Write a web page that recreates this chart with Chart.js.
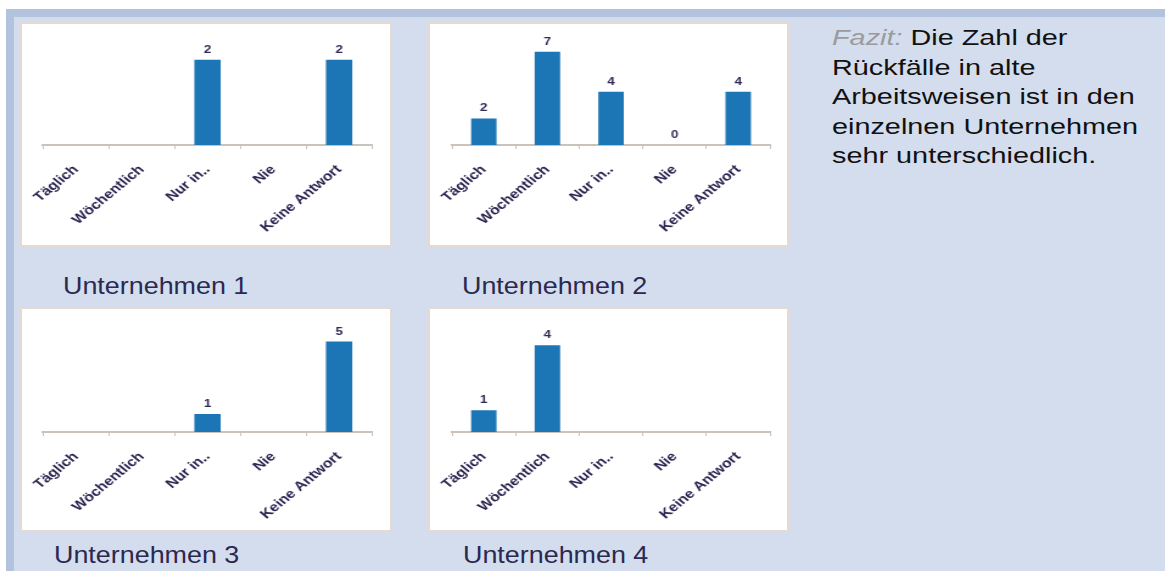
<!DOCTYPE html>
<html>
<head>
<meta charset="utf-8">
<script src="https://cdn.jsdelivr.net/npm/chart.js@4.4.0/dist/chart.umd.min.js"></script>
<style>
body { margin:0; background:#fff; width:1165px; height:574px; overflow:hidden; position:relative; font-family:"Liberation Sans", Arial, sans-serif; }
.frame { position:absolute; left:6px; top:9px; width:1159px; height:562px; background:#d3ddee; border-top:8px solid #b3c3de; border-left:8px solid #b3c3de; box-sizing:border-box; }
.panel { position:absolute; background:#fff; border:2px solid #e4dad1; box-sizing:border-box; overflow:hidden; }
.stretch { position:absolute; left:0; top:0; transform-origin:0 0; }
.caption { position:absolute; font-size:24px; color:#2b2950; transform-origin:0 0; transform:scaleX(1.12); white-space:nowrap; }
.fazit { position:absolute; left:832px; top:23px; font-size:22px; line-height:29.5px; color:#111; transform-origin:0 0; transform:scaleX(1.31); white-space:nowrap; }
.fazit em { color:#9b9b9b; }
</style>
</head>
<body>
<div class="frame"></div>
<div class="fazit"><em>Fazit:</em> Die Zahl der<br>Rückfälle in alte<br>Arbeitsweisen ist in den<br>einzelnen Unternehmen<br>sehr unterschiedlich.</div>
<script>
// Data
const categories = ['Täglich', 'Wöchentlich', 'Nur in..', 'Nie', 'Keine Antwort'];
const companies = ['Unternehmen 1', 'Unternehmen 2', 'Unternehmen 3', 'Unternehmen 4'];
const company1 = [null, null, 2, null, 2];
const company2 = [2, 7, 4, 0, 4];
const company3 = [null, null, 1, null, 5];
const company4 = [1, 4, null, null, null];
const axisMax = [2.5, 8, 6, 5];

const seriesList = [company1, company2, company3, company4];

// panel placement (page pixels)
const panels = [
    { left: 20, top: 22, w: 372, h: 225, axisY: 121, padL: 21, padR: 18, capX: 63, capY: 272 },
    { left: 428, top: 22, w: 361, h: 225, axisY: 121, padL: 22, padR: 17, capX: 462, capY: 272 },
    { left: 20, top: 307, w: 372, h: 225, axisY: 123, padL: 21, padR: 18, capX: 54, capY: 541 },
    { left: 428, top: 307, w: 361, h: 225, axisY: 123, padL: 22, padR: 17, capX: 463, capY: 541 }
];
// the source picture is stretched sideways, so the charts are drawn narrow and widened
const stretch = 1.22;

const valueLabels = {
    id: 'valueLabels',
    afterDatasetsDraw(chart) {
        const ctx = chart.ctx;
        const values = chart.data.datasets[0].data;
        const meta = chart.getDatasetMeta(0);
        ctx.save();
        ctx.font = 'bold 11px "Liberation Sans", Arial, sans-serif';
        ctx.fillStyle = '#2e2a55';
        ctx.textAlign = 'center';
        ctx.textBaseline = 'alphabetic';
        meta.data.forEach((bar, i) => {
            if (values[i] === null) return;
            ctx.fillText(String(values[i]), bar.x, bar.y - 7);
        });
        ctx.restore();
    }
};

panels.forEach((p, idx) => {
    const panel = document.createElement('div');
    panel.className = 'panel';
    panel.style.left = p.left + 'px';
    panel.style.top = p.top + 'px';
    panel.style.width = p.w + 'px';
    panel.style.height = p.h + 'px';
    document.body.appendChild(panel);

    const W = p.w - 4, H = p.h - 4;
    const cw = Math.round(W / stretch);
    const s = W / cw;
    const wrap = document.createElement('div');
    wrap.className = 'stretch';
    wrap.style.width = cw + 'px';
    wrap.style.height = H + 'px';
    wrap.style.transform = 'scaleX(' + s + ')';
    const canvas = document.createElement('canvas');
    canvas.width = cw;
    canvas.height = H;
    wrap.appendChild(canvas);
    panel.appendChild(wrap);

    const cap = document.createElement('div');
    cap.className = 'caption';
    cap.style.left = p.capX + 'px';
    cap.style.top = p.capY + 'px';
    cap.textContent = companies[idx];
    document.body.appendChild(cap);

    new Chart(canvas, {
        type: 'bar',
        data: {
            labels: categories,
            datasets: [{
                data: seriesList[idx],
                backgroundColor: '#1c75b5',
                borderWidth: 0,
                categoryPercentage: 1,
                barPercentage: 0.4
            }]
        },
        options: {
            responsive: false,
            animation: false,
            events: [],
            layout: { padding: { left: p.padL / s, right: p.padR / s, top: 14.5, bottom: 0 } },
            plugins: { legend: { display: false }, tooltip: { enabled: false } },
            scales: {
                y: { display: false, min: 0, max: axisMax[idx] },
                x: {
                    offset: true,
                    grid: { display: true, offset: true, drawOnChartArea: false, drawTicks: true, tickLength: 4, color: '#cbc2ba', lineWidth: 1 },
                    border: { display: true, color: '#cbc2ba', width: 2 },
                    ticks: {
                        autoSkip: false, minRotation: 45, maxRotation: 45, padding: 13,
                        color: '#2a2450',
                        font: { family: '"Liberation Sans", Arial, sans-serif', size: 13, weight: 'bold' }
                    },
                    afterFit: scale => {
                        scale.paddingLeft = 0;
                        scale.paddingRight = 0;
                        scale.height = H - p.axisY;
                    }
                }
            }
        },
        plugins: [valueLabels]
    });
});
</script>
</body>
</html>
